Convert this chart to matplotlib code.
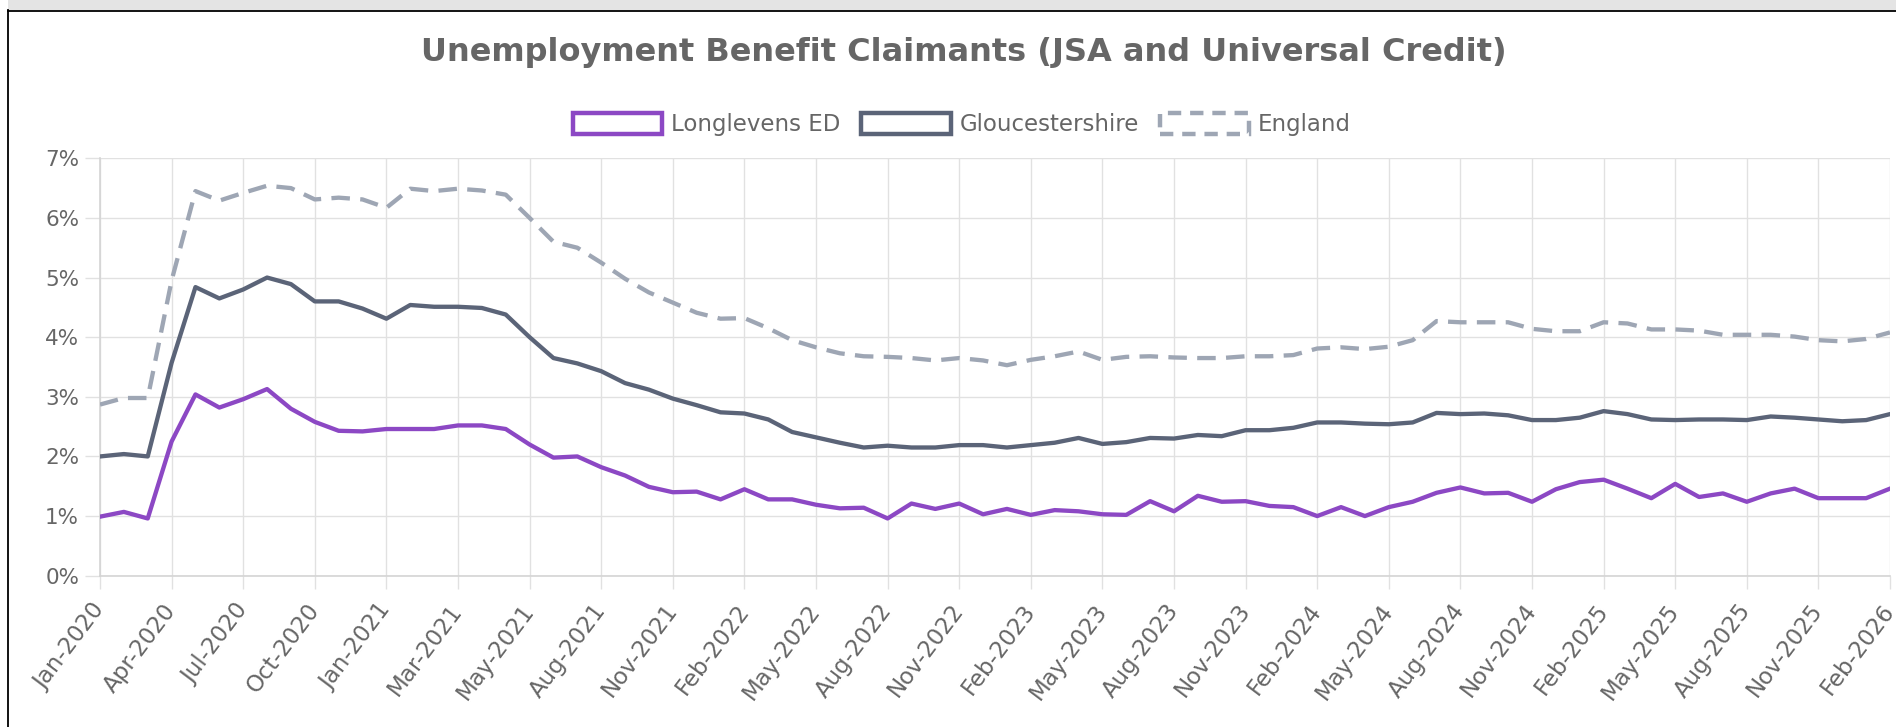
import matplotlib
matplotlib.use("Agg")
import matplotlib.pyplot as plt
from matplotlib.patches import Patch, Rectangle
from matplotlib.lines import Line2D

# ---- data ----
tick_labels = ["Jan-2020", "Apr-2020", "Jul-2020", "Oct-2020", "Jan-2021", "Mar-2021",
               "May-2021", "Aug-2021", "Nov-2021", "Feb-2022", "May-2022", "Aug-2022",
               "Nov-2022", "Feb-2023", "May-2023", "Aug-2023", "Nov-2023", "Feb-2024",
               "May-2024", "Aug-2024", "Nov-2024", "Feb-2025", "May-2025", "Aug-2025",
               "Nov-2025", "Feb-2026"]

longlevens = [0.99, 1.07, 0.96, 2.25, 3.04, 2.82, 2.96, 3.13, 2.80, 2.58,
              2.43, 2.42, 2.46, 2.46, 2.46, 2.52, 2.52, 2.46, 2.20, 1.98,
              2.00, 1.82, 1.68, 1.49, 1.40, 1.41, 1.28, 1.45, 1.28, 1.28,
              1.19, 1.13, 1.14, 0.96, 1.21, 1.12, 1.21, 1.03, 1.12, 1.02,
              1.10, 1.08, 1.03, 1.02, 1.25, 1.08, 1.34, 1.24, 1.25, 1.17,
              1.15, 1.00, 1.15, 1.00, 1.15, 1.24, 1.39, 1.48, 1.38, 1.39,
              1.24, 1.45, 1.57, 1.61, 1.46, 1.30, 1.54, 1.32, 1.38, 1.24,
              1.38, 1.46, 1.30, 1.30, 1.30, 1.46]

gloucestershire = [2.00, 2.04, 2.00, 3.57, 4.84, 4.65, 4.80, 5.00, 4.89, 4.60,
                   4.60, 4.48, 4.31, 4.54, 4.51, 4.51, 4.49, 4.38, 4.00, 3.65,
                   3.56, 3.43, 3.23, 3.12, 2.97, 2.86, 2.74, 2.72, 2.62, 2.41,
                   2.32, 2.23, 2.15, 2.18, 2.15, 2.15, 2.19, 2.19, 2.15, 2.19,
                   2.23, 2.31, 2.21, 2.24, 2.31, 2.30, 2.36, 2.34, 2.44, 2.44,
                   2.48, 2.57, 2.57, 2.55, 2.54, 2.57, 2.73, 2.71, 2.72, 2.69,
                   2.61, 2.61, 2.65, 2.76, 2.71, 2.62, 2.61, 2.62, 2.62, 2.61,
                   2.67, 2.65, 2.62, 2.59, 2.61, 2.71]

england = [2.87, 2.98, 2.98, 4.95, 6.45, 6.29, 6.42, 6.54, 6.50, 6.31,
           6.34, 6.31, 6.17, 6.49, 6.45, 6.49, 6.46, 6.39, 6.00, 5.60,
           5.50, 5.25, 4.98, 4.75, 4.58, 4.41, 4.31, 4.32, 4.15, 3.95,
           3.83, 3.73, 3.68, 3.67, 3.65, 3.61, 3.65, 3.61, 3.53, 3.62,
           3.68, 3.76, 3.62, 3.67, 3.68, 3.66, 3.65, 3.65, 3.68, 3.68,
           3.70, 3.81, 3.83, 3.80, 3.84, 3.95, 4.27, 4.25, 4.25, 4.25,
           4.14, 4.10, 4.10, 4.25, 4.23, 4.13, 4.13, 4.11, 4.04, 4.04,
           4.04, 4.01, 3.95, 3.93, 3.97, 4.08]

series_names = ["Longlevens ED", "Gloucestershire", "England"]
y_ticks = [0, 1, 2, 3, 4, 5, 6, 7]

# ---- style ----
plt.rcParams['font.family'] = ['DejaVu Sans']
c_purple = '#8c48c4'
c_dark = '#5b6478'
c_light = '#9ea6b4'
grid_c = '#e1e1e1'
text_c = '#666666'

W, H = 1896, 727
fig = plt.figure(figsize=(W / 100, H / 100), dpi=100)
fig.patch.set_facecolor('white')

# screenshot frame: grey strip + black border
fig.add_artist(Rectangle((8 / W, 1 - 10 / H), 1, 10 / H, transform=fig.transFigure,
                         facecolor='#e4e4e4', edgecolor='none'))
fig.add_artist(Line2D([8 / W, 1], [1 - 10.5 / H, 1 - 10.5 / H], transform=fig.transFigure,
                      color='black', lw=1.3))
fig.add_artist(Line2D([8 / W, 8 / W], [0, 1 - 10 / H], transform=fig.transFigure,
                      color='black', lw=1.3))

ax = fig.add_axes([100 / W, 1 - 575.7 / H, 1790 / W, (575.7 - 158.3) / H])
x = list(range(len(longlevens)))

ax.plot(x, england, color=c_light, lw=3.1, linestyle=(0, (4.3, 2.4)),
        solid_joinstyle='round', dash_capstyle='butt', zorder=3)
ax.plot(x, gloucestershire, color=c_dark, lw=3.1, solid_joinstyle='round', zorder=4)
ax.plot(x, longlevens, color=c_purple, lw=3.1, solid_joinstyle='round', zorder=5)

ax.set_xlim(0, len(longlevens) - 1)
ax.set_ylim(0, 7)
tick_pos = list(range(0, len(longlevens), 3))
ax.set_xticks(tick_pos)
ax.set_xticklabels(tick_labels, rotation=53, ha='right', va='center',
                   rotation_mode='anchor', fontsize=16.5, color=text_c)
ax.set_yticks(y_ticks)
ax.set_yticklabels([f"{v}%" for v in y_ticks], fontsize=15.5, color=text_c)

ax.grid(True, color=grid_c, lw=1)
ax.set_axisbelow(True)
ax.tick_params(axis='x', length=9, width=1, color=grid_c, pad=13)
ax.tick_params(axis='y', length=11, width=1, color=grid_c, pad=4)
for s in ['top', 'right']:
    ax.spines[s].set_visible(False)
for s in ['left', 'bottom']:
    ax.spines[s].set_color('#d4d4d4')
    ax.spines[s].set_linewidth(1.2)

fig.text(964 / W, 1 - 52 / H, "Unemployment Benefit Claimants (JSA and Universal Credit)",
         ha='center', va='center', fontsize=23, fontweight='bold', color=text_c)

handles = [
    Patch(facecolor='white', edgecolor=c_purple, linewidth=3.2),
    Patch(facecolor='white', edgecolor=c_dark, linewidth=3.2),
    Patch(facecolor='white', edgecolor=c_light, linewidth=3.2, linestyle=(0, (3, 2))),
]
leg = fig.legend(handles, series_names, loc='center', bbox_to_anchor=(962 / W, 1 - 124.5 / H),
                 ncol=3, frameon=False, fontsize=16.5, handlelength=3.9, handleheight=1.05,
                 handletextpad=0.38, columnspacing=0.92, borderaxespad=0)
for t in leg.get_texts():
    t.set_color(text_c)

fig.savefig('out.png', dpi=100, facecolor='white')
